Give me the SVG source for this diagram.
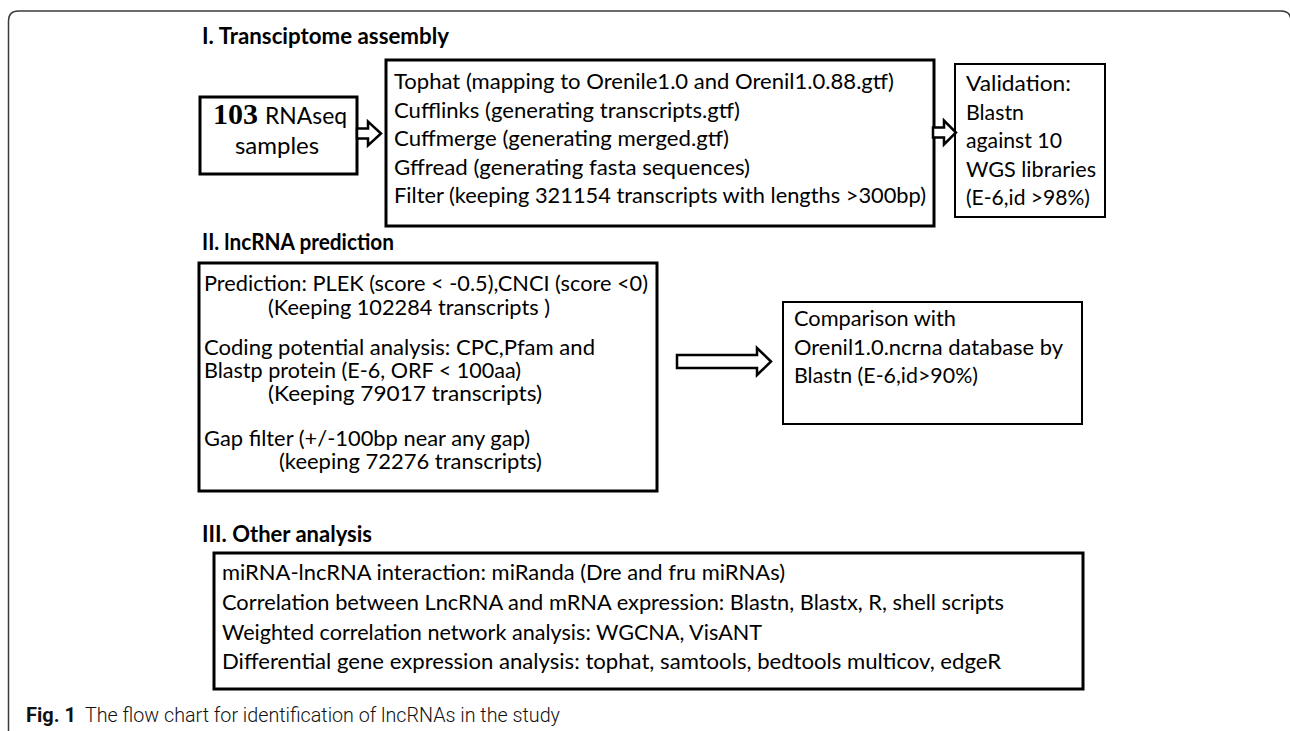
<svg xmlns="http://www.w3.org/2000/svg" width="1290" height="731" viewBox="0 0 1290 731">
<style>
  .frame { fill: none; stroke: #3a3a3a; stroke-width: 1.5; }
  .thick { fill: #fff; stroke: #000; stroke-width: 3; }
  .thin { fill: #fff; stroke: #000; stroke-width: 2; }
  .arrow { fill: #fff; stroke: #000; stroke-width: 2.5; stroke-linejoin: miter; }
  .t { font-family: Lato, "Open Sans", "Liberation Sans", sans-serif; font-size: 22px; fill: #000; }
  .h { font-family: Lato, "Open Sans", "Liberation Sans", sans-serif; font-size: 22px; font-weight: bold; fill: #000; }
  .big { font-family: Lato, "Open Sans", "Liberation Sans", sans-serif; font-size: 24px; fill: #000; }
  .num { font-family: "Liberation Serif", "DejaVu Serif", serif; font-size: 30px; font-weight: bold; fill: #000; }
  .capb { font-family: Roboto, "Liberation Sans", sans-serif; font-size: 20px; font-weight: bold; fill: #111; }
  .cap { font-family: Roboto, "Liberation Sans", sans-serif; font-size: 20px; font-weight: 300; fill: #111; }
</style>
<rect width="1290" height="731" fill="#fff"/>
<path class="frame" d="M8.5 731 V21 Q8.5 11 18.5 11 H1281 Q1291 11 1291 21 V731"/>

<g id="section-titles">
  <text class="h" x="202" y="44" textLength="247" lengthAdjust="spacingAndGlyphs">I. Transciptome assembly</text>
  <text class="h" x="202" y="250" textLength="192" lengthAdjust="spacingAndGlyphs">II. lncRNA prediction</text>
  <text class="h" x="202" y="542" textLength="170" lengthAdjust="spacingAndGlyphs">III. Other analysis</text>
</g>

<g id="node-samples">
  <rect class="thick" x="200" y="97" width="157" height="77"/>
  <text class="num" x="213" y="124">103</text>
  <text class="big" x="265" y="124" textLength="82" lengthAdjust="spacingAndGlyphs">RNAseq</text>
  <text class="big" x="277" y="154" text-anchor="middle">samples</text>
</g>

<g id="node-assembly">
  <rect class="thick" x="386" y="60" width="548" height="166"/>
  <text class="t" x="394" y="89" textLength="500" lengthAdjust="spacingAndGlyphs">Tophat (mapping to Orenile1.0 and Orenil1.0.88.gtf)</text>
  <text class="t" x="394" y="117.5" textLength="346" lengthAdjust="spacingAndGlyphs">Cufflinks (generating transcripts.gtf)</text>
  <text class="t" x="394" y="146" textLength="335" lengthAdjust="spacingAndGlyphs">Cuffmerge (generating merged.gtf)</text>
  <text class="t" x="394" y="174.5" textLength="356" lengthAdjust="spacingAndGlyphs">Gffread (generating fasta sequences)</text>
  <text class="t" x="394" y="203" textLength="532" lengthAdjust="spacingAndGlyphs">Filter (keeping 321154 transcripts with lengths &gt;300bp)</text>
</g>

<g id="node-validation">
  <rect class="thin" x="955" y="64" width="150" height="153"/>
  <text class="t" x="966" y="91" textLength="105" lengthAdjust="spacingAndGlyphs">Validation:</text>
  <text class="t" x="966" y="119.5" textLength="58" lengthAdjust="spacingAndGlyphs">Blastn</text>
  <text class="t" x="966" y="148" textLength="96" lengthAdjust="spacingAndGlyphs">against 10</text>
  <text class="t" x="966" y="176.5" textLength="130" lengthAdjust="spacingAndGlyphs">WGS libraries</text>
  <text class="t" x="966" y="205" textLength="124" lengthAdjust="spacingAndGlyphs">(E-6,id &gt;98%)</text>
</g>

<g id="node-prediction">
  <rect class="thick" x="199" y="263" width="458" height="228"/>
  <text class="t" x="204" y="291" textLength="444" lengthAdjust="spacingAndGlyphs">Prediction: PLEK (score &lt; -0.5),CNCI (score &lt;0)</text>
  <text class="t" x="268" y="315" textLength="282" lengthAdjust="spacingAndGlyphs">(Keeping 102284 transcripts )</text>
  <text class="t" x="204" y="355" textLength="391" lengthAdjust="spacingAndGlyphs">Coding potential analysis: CPC,Pfam and</text>
  <text class="t" x="204" y="378" textLength="317" lengthAdjust="spacingAndGlyphs">Blastp protein (E-6, ORF &lt; 100aa)</text>
  <text class="t" x="268" y="401" textLength="274" lengthAdjust="spacingAndGlyphs">(Keeping 79017 transcripts)</text>
  <text class="t" x="204" y="446" textLength="326" lengthAdjust="spacingAndGlyphs">Gap filter (+/-100bp near any gap)</text>
  <text class="t" x="279" y="469" textLength="263" lengthAdjust="spacingAndGlyphs">(keeping 72276 transcripts)</text>
</g>

<g id="node-comparison">
  <rect class="thin" x="783" y="302" width="299" height="122"/>
  <text class="t" x="794" y="326" textLength="162" lengthAdjust="spacingAndGlyphs">Comparison with</text>
  <text class="t" x="794" y="355" textLength="269" lengthAdjust="spacingAndGlyphs">Orenil1.0.ncrna database by</text>
  <text class="t" x="794" y="383" textLength="184" lengthAdjust="spacingAndGlyphs">Blastn (E-6,id&gt;90%)</text>
</g>

<g id="node-other">
  <rect class="thick" x="214" y="553" width="869" height="136"/>
  <text class="t" x="222" y="580" textLength="563" lengthAdjust="spacingAndGlyphs">miRNA-lncRNA interaction: miRanda (Dre and fru miRNAs)</text>
  <text class="t" x="222" y="610" textLength="782" lengthAdjust="spacingAndGlyphs">Correlation between LncRNA and mRNA expression: Blastn, Blastx, R, shell scripts</text>
  <text class="t" x="222" y="639.5" textLength="540" lengthAdjust="spacingAndGlyphs">Weighted correlation network analysis: WGCNA, VisANT</text>
  <text class="t" x="222" y="669" textLength="779" lengthAdjust="spacingAndGlyphs">Differential gene expression analysis: tophat, samtools, bedtools multicov, edgeR</text>
</g>

<g id="connectors">
  <polygon class="arrow" points="357,128.5 368,128.5 368,121.5 381,133.5 368,145.5 368,138.5 357,138.5"/>
  <polygon class="arrow" points="933,127.5 944,127.5 944,120.5 956,132.5 944,144.5 944,137.5 933,137.5"/>
  <polygon class="arrow" points="677,355 757,355 757,348 771,361.5 757,375 757,368 677,368"/>
</g>

<g id="caption">
  <text class="capb" x="26" y="722">Fig. 1</text>
  <text class="cap" x="85" y="722" textLength="475" lengthAdjust="spacingAndGlyphs">The flow chart for identification of lncRNAs in the study</text>
</g>
</svg>
